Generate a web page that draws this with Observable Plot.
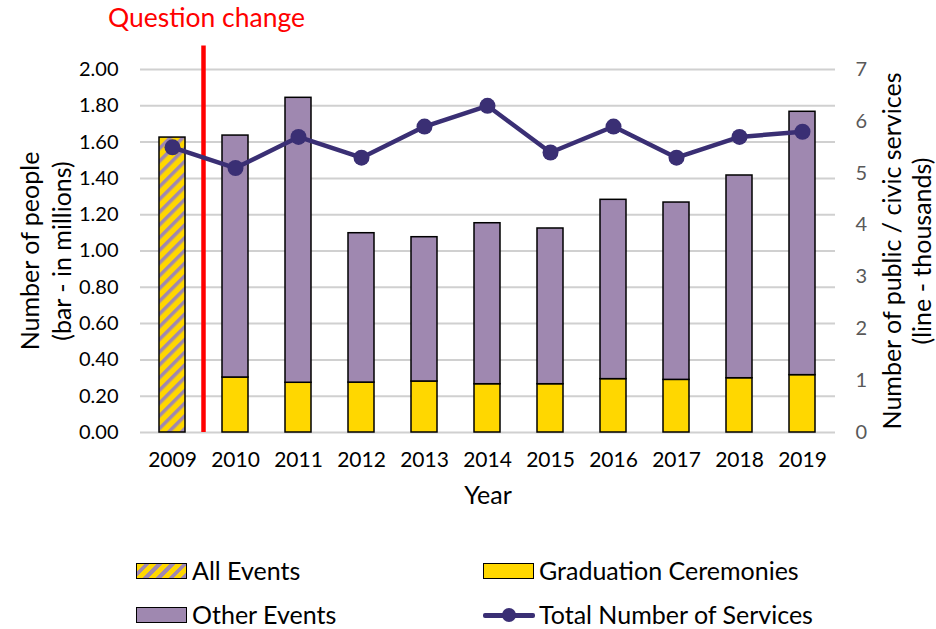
<!DOCTYPE html>
<html>
<head>
<meta charset="utf-8">
<script src="https://cdn.jsdelivr.net/npm/d3@7"></script>
<script src="https://cdn.jsdelivr.net/npm/@observablehq/plot@0.6"></script>
<style>
  body { margin: 0; background: white; }
  #wrap { position: relative; width: 936px; height: 629px; font-family: Lato, sans-serif; }
  .leg { position: absolute; font-size: 25px; color: #000; white-space: nowrap; line-height: 1; }
  .sw { position: absolute; box-sizing: border-box; border: 1.5px solid #000; }
</style>
</head>
<body>
<div id="wrap"></div>
<script>
const years = ["2009","2010","2011","2012","2013","2014","2015","2016","2017","2018","2019"];
const allEvents   = [1.625, null, null, null, null, null, null, null, null, null, null];
const graduation  = [null, 0.303, 0.274, 0.275, 0.281, 0.266, 0.266, 0.294, 0.290, 0.299, 0.316];
const otherEvents = [null, 1.333, 1.570, 0.823, 0.795, 0.887, 0.858, 0.988, 0.977, 1.117, 1.451];
const services    = [5.5, 5.1, 5.7, 5.3, 5.9, 6.3, 5.4, 5.9, 5.3, 5.7, 5.8];
const leftTicks  = [0, 0.2, 0.4, 0.6, 0.8, 1.0, 1.2, 1.4, 1.6, 1.8, 2.0];
const rightTicks = [0, 1, 2, 3, 4, 5, 6, 7];
const questionChange = [{year: "2009", label: "Question change"}];

const YELLOW = "#FFD700", PURPLE = "#9F88B0", NAVY = "#3A2F74";
const R = 2 / 7; // right axis (0..7) mapped onto left axis (0..2)

const rows = years.map((year, i) => ({
  year, all: allEvents[i], grad: graduation[i], other: otherEvents[i], services: services[i]
}));

const titleOpts = {rotate: -90, fontSize: 25, textAnchor: "middle", lineAnchor: "middle"};

const svg = Plot.plot({
  width: 936, height: 520,
  marginLeft: 140, marginRight: 101, marginTop: 69, marginBottom: 88,
  style: {fontFamily: "Lato, sans-serif", fontSize: "20px", color: "#000", background: "white"},
  x: {domain: years, paddingInner: 0.58, paddingOuter: 0.29, label: null},
  y: {domain: [0, 2], label: null},
  marks: [
    Plot.gridY(leftTicks, {stroke: "#d0d0d0", strokeOpacity: 1, strokeWidth: 2}),
    Plot.barY(rows.filter(d => d.all != null), {x: "year", y1: 0, y2: "all", fill: "url(#stripes)", stroke: "#000", strokeWidth: 1.5}),
    Plot.barY(rows.filter(d => d.grad != null), {x: "year", y1: 0, y2: "grad", fill: YELLOW, stroke: "#000", strokeWidth: 1.5}),
    Plot.barY(rows.filter(d => d.grad != null), {x: "year", y1: "grad", y2: d => d.grad + d.other, fill: PURPLE, stroke: "#000", strokeWidth: 1.5}),
    Plot.ruleX(questionChange, {x: "year", dx: 31, y1: 0, y2: 2.13, stroke: "#FF0000", strokeWidth: 4.5}),
    Plot.text(questionChange, {x: "year", y: 2.13, dx: 34, dy: -27, text: "label", fill: "#FF0000", fontSize: 26.5}),
    Plot.line(rows, {x: "year", y: d => d.services * R, stroke: NAVY, strokeWidth: 4.5}),
    Plot.dot(rows, {x: "year", y: d => d.services * R, r: 8, fill: NAVY}),
    Plot.axisY(leftTicks, {tickSize: 0, tickPadding: 22, tickFormat: d => d.toFixed(2), label: null}),
    Plot.axisY(rightTicks.map(v => v * R), {anchor: "right", tickSize: 0, tickPadding: 20, tickFormat: d => String(Math.round(d / R)), fill: "#595959", label: null}),
    Plot.axisX({tickSize: 0, tickPadding: 20, fontSize: 21, label: null}),
    Plot.text(["Year"], {frameAnchor: "bottom", dy: 71, fontSize: 25}),
    Plot.text(["Number of people"], {frameAnchor: "left", dx: -110, ...titleOpts}),
    Plot.text(["(bar - in millions)"], {frameAnchor: "left", dx: -78, ...titleOpts}),
    Plot.text(["Number of public / civic services"], {frameAnchor: "right", dx: 57, ...titleOpts}),
    Plot.text(["(line - thousands)"], {frameAnchor: "right", dx: 87, ...titleOpts})
  ]
});

// stripe pattern for "All Events"
const NS = "http://www.w3.org/2000/svg";
const defs = document.createElementNS(NS, "defs");
const pat = document.createElementNS(NS, "pattern");
pat.setAttribute("id", "stripes");
pat.setAttribute("patternUnits", "userSpaceOnUse");
pat.setAttribute("width", "9");
pat.setAttribute("height", "9");
pat.setAttribute("patternTransform", "rotate(45)");
const r1 = document.createElementNS(NS, "rect");
r1.setAttribute("width", "9"); r1.setAttribute("height", "9"); r1.setAttribute("fill", YELLOW);
const r2 = document.createElementNS(NS, "rect");
r2.setAttribute("width", "3.5"); r2.setAttribute("height", "9"); r2.setAttribute("fill", PURPLE);
pat.appendChild(r1); pat.appendChild(r2); defs.appendChild(pat);
svg.insertBefore(defs, svg.firstChild);

const wrap = document.getElementById("wrap");
wrap.appendChild(svg);

// legend
const legendItems = [
  {label: "All Events", kind: "stripes", left: 136, cy: 571},
  {label: "Graduation Ceremonies", kind: "yellow", left: 483, cy: 571},
  {label: "Other Events", kind: "purple", left: 136, cy: 615},
  {label: "Total Number of Services", kind: "line", left: 483, cy: 615}
];
legendItems.forEach(it => {
  if (it.kind === "line") {
    const s = document.createElement("div");
    s.style.cssText = `position:absolute;left:${it.left}px;top:${it.cy - 2.5}px;width:52px;height:5px;background:${NAVY};border-radius:2px;`;
    wrap.appendChild(s);
    const d = document.createElement("div");
    d.style.cssText = `position:absolute;left:${it.left + 26 - 7}px;top:${it.cy - 7}px;width:14px;height:14px;background:${NAVY};border-radius:50%;`;
    wrap.appendChild(d);
  } else {
    const s = document.createElement("div");
    s.className = "sw";
    s.style.left = it.left + "px";
    s.style.top = (it.cy - 8) + "px";
    s.style.width = "51px";
    s.style.height = "16px";
    s.style.background = it.kind === "yellow" ? YELLOW : it.kind === "purple" ? PURPLE :
      `repeating-linear-gradient(135deg, ${YELLOW} 0px, ${YELLOW} 5px, ${PURPLE} 5px, ${PURPLE} 9px)`;
    wrap.appendChild(s);
  }
  const t = document.createElement("div");
  t.className = "leg";
  t.textContent = it.label;
  t.style.left = (it.left + 56) + "px";
  t.style.top = (it.cy - 13) + "px";
  wrap.appendChild(t);
});
</script>
</body>
</html>
